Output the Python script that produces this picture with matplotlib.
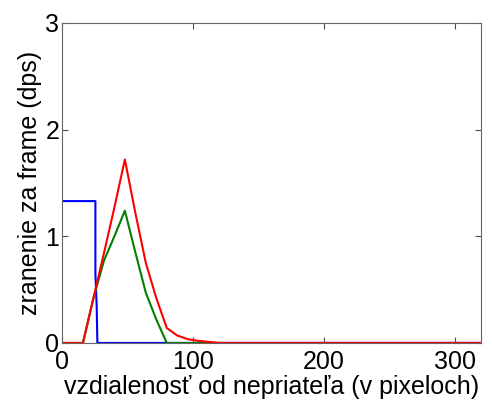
import matplotlib
matplotlib.use("Agg")
import matplotlib.pyplot as plt

plt.rcParams["font.family"] = ["Liberation Sans", "DejaVu Sans"]

# blue curve (step)
blue_x = [0, 25.5, 25.5, 26.5, 27, 320]
blue_y = [1.33, 1.33, 0.65, 0.34, 0, 0]

# red curve
red_x = [0, 16, 24, 32, 40, 48, 56, 64, 72, 80, 88, 96, 104, 112, 120, 320]
red_y = [0, 0, 0.42, 0.84, 1.27, 1.72, 1.22, 0.75, 0.42, 0.14, 0.07, 0.035, 0.02, 0.01, 0, 0]

# green curve
green_x = [0, 16, 24, 32, 40, 48, 56, 64, 72, 80, 320]
green_y = [0, 0, 0.42, 0.77, 1.0, 1.24, 0.85, 0.47, 0.22, 0, 0]

fig = plt.figure(figsize=(4.92, 4.03), dpi=100)
ax = fig.add_axes([0.126, 0.149, 0.852, 0.794])

ax.plot(blue_x, blue_y, color="#0000ff", lw=1.5)
ax.plot(green_x, green_y, color="#008000", lw=1.5)
ax.plot(red_x, red_y, color="#ff0000", lw=1.5)

ax.set_xlim(0, 320)
ax.set_ylim(0, 3)
ax.set_xticks([0, 100, 200, 300])
ax.set_yticks([0, 1, 2, 3])
ax.tick_params(direction="in", top=True, right=True, labelsize=18, length=4, color="0.3")
ax.tick_params(axis="x", pad=5)
ax.tick_params(axis="y", pad=2)
for s in ax.spines.values():
    s.set_color("0.4")

ax.set_xlabel("vzdialenosť od nepriateľa (v pixeloch)", fontsize=18, labelpad=1)
ax.set_ylabel("zranenie za frame (dps)", fontsize=18, labelpad=2)

fig.savefig("out.png", dpi=100)
